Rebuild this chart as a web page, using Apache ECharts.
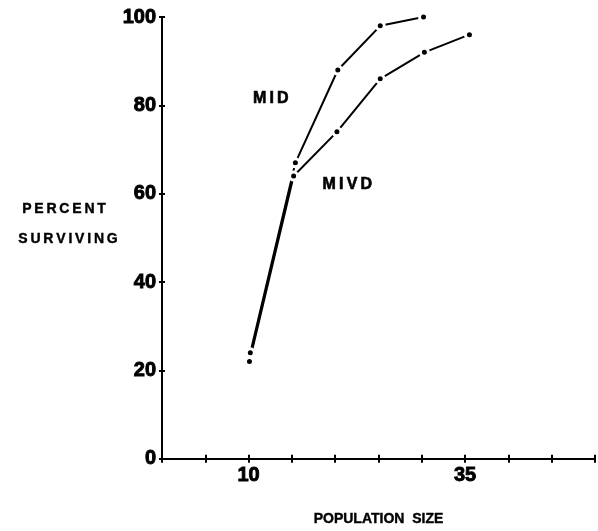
<!DOCTYPE html>
<html>
<head>
<meta charset="utf-8">
<script src="https://cdn.jsdelivr.net/npm/echarts@6/dist/echarts.min.js"></script>
<style>html,body{margin:0;padding:0;background:#fff}#c{width:598px;height:531px}</style>
</head>
<body>
<div id="c"></div>
<script>
// Data
var xLabelsShown = [10, 35];
var yTicks = [0, 20, 40, 60, 80, 100];
var midX = [10.2, 15.4, 20.3, 25.2, 30.2];
var midY = [24, 67, 88, 98, 100];
var mivdX = [10.1, 15.2, 20.2, 25.2, 30.3, 35.5];
var mivdY = [22, 64, 74, 86, 92, 96];
var annotNames = ['MID', 'MIVD'];
var annotX = [12.56, 21.4];
var annotY = [81.6, 62.0];
var xAxisTitle = 'POPULATION  SIZE';
var yAxisTitle = ['PERCENT', 'SURVIVING'];

var FONT = '"Liberation Sans", Arial, Helvetica, sans-serif';
var TS = '\u2009';
function spaced(s) { return s.split('').join(TS); }
function pairs(xs, ys) { return xs.map(function (x, i) { return [x, ys[i]]; }); }

var chart = echarts.init(document.getElementById('c'), null, {renderer: 'canvas'});

var baseX = {type: 'value', min: 0, max: 50, interval: 5, splitLine: {show: false}};
var baseY = {type: 'value', min: 0, max: 100, interval: 20, splitLine: {show: false}};

var lineStyle = {color: '#000', width: 2};
var itemStyle = {color: '#000', borderColor: '#fff', borderWidth: 3};
var heavy = {color: '#000', fontFamily: FONT, fontWeight: 'bold', textBorderColor: '#000', textBorderWidth: 0.9};

chart.setOption({
  animation: false,
  backgroundColor: '#fff',
  grid: {left: 162, right: 2, top: 17, bottom: 68, containLabel: false},
  xAxis: [
    Object.assign({}, baseX, {
      position: 'bottom',
      axisLine: {lineStyle: {color: '#000', width: 2}},
      axisTick: {show: true, inside: false, length: 4, lineStyle: {color: '#000', width: 2}},
      axisLabel: Object.assign({
        margin: 7, fontSize: 20,
        formatter: function (v) { return xLabelsShown.indexOf(v) >= 0 ? String(v) : ''; }
      }, heavy),
      name: xAxisTitle, nameLocation: 'middle', nameGap: 53,
      nameTextStyle: {color: '#000', fontFamily: FONT, fontWeight: 'bold', fontSize: 14, textBorderColor: '#000', textBorderWidth: 0.4}
    }),
    Object.assign({}, baseX, {
      position: 'bottom',
      axisLine: {show: false},
      axisTick: {show: true, inside: true, length: 4, lineStyle: {color: '#000', width: 2}},
      axisLabel: {show: false}
    })
  ],
  yAxis: [
    Object.assign({}, baseY, {
      position: 'left',
      axisLine: {lineStyle: {color: '#000', width: 2}},
      axisTick: {show: true, inside: false, length: 3, lineStyle: {color: '#000', width: 2}},
      axisLabel: Object.assign({
        margin: 6, fontSize: 20,
        formatter: function (v) { return yTicks.indexOf(v) >= 0 ? String(v) : ''; }
      }, heavy)
    }),
    Object.assign({}, baseY, {
      position: 'left',
      axisLine: {show: false},
      axisTick: {show: true, inside: true, length: 3, lineStyle: {color: '#000', width: 2}},
      axisLabel: {show: false}
    })
  ],
  series: [
    {
      name: 'MID', type: 'line', data: pairs(midX, midY),
      symbol: 'circle', symbolSize: 8, lineStyle: lineStyle, itemStyle: itemStyle
    },
    {
      name: 'MIVD', type: 'line', data: pairs(mivdX, mivdY),
      symbol: 'circle', symbolSize: 8, lineStyle: lineStyle, itemStyle: itemStyle
    }
  ]
});

var textStyleBase = {fill: '#000', align: 'center', verticalAlign: 'middle', stroke: '#000'};
var graphics = [
  {type: 'text', x: 64, y: 209, style: Object.assign({text: spaced(yAxisTitle[0]), font: 'bold 14px ' + FONT, lineWidth: 0.4}, textStyleBase)},
  {type: 'text', x: 68, y: 239, style: Object.assign({text: spaced(yAxisTitle[1]), font: 'bold 14px ' + FONT, lineWidth: 0.4}, textStyleBase)}
];
annotNames.forEach(function (n, i) {
  var p = chart.convertToPixel({xAxisIndex: 0, yAxisIndex: 0}, [annotX[i], annotY[i]]);
  graphics.push({
    type: 'text', x: p[0], y: p[1], z: 10,
    style: Object.assign({text: spaced(n), font: 'bold 16px ' + FONT, lineWidth: 0.6}, textStyleBase)
  });
});
chart.setOption({graphic: graphics});
</script>
</body>
</html>
